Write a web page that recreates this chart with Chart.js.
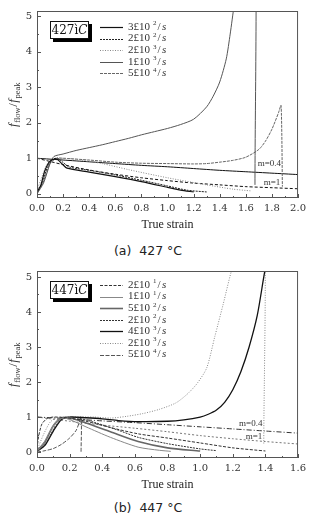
<!DOCTYPE html>
<html>
<head>
<meta charset="utf-8">
<script src="https://cdn.jsdelivr.net/npm/chart.js@4.4.1/dist/chart.umd.min.js"></script>
<style>
  html, body { margin: 0; padding: 0; background: #fff; }
  #wrap { position: relative; width: 310px; height: 513px; overflow: hidden; }
  .panel { position: absolute; left: 0; width: 310px; height: 232px; }
  .cap { position: absolute; left: 0; width: 296px; text-align: center;
         font: 12.5px "DejaVu Sans", sans-serif; color: #222; white-space: pre; }
</style>
</head>
<body>
<div id="wrap">
  <div class="panel" style="top:0"><canvas id="chartA" width="310" height="232"></canvas></div>
  <div class="cap" style="top:243px">(a)  427 °C</div>
  <div class="panel" style="top:260px"><canvas id="chartB" width="310" height="232"></canvas></div>
  <div class="cap" style="top:500px">(b)  447 °C</div>
</div>
<script>
// ---- (a) 427 C : strain / normalised flow stress ----
const aLabels = ['3£10-2/s', '2£10-2/s', '2£10-3/s', '1£10-3/s', '5£10-4/s'];

const aStrain1 = [0, 0.03, 0.06, 0.1, 0.15, 0.19, 0.23, 0.4, 0.6, 0.8, 1.0, 1.1, 1.2];
const aFlow1   = [0.05, 0.25, 0.65, 0.92, 0.98, 0.85, 0.72, 0.61, 0.48, 0.34, 0.18, 0.1, 0.05];

const aStrain2 = [0, 0.04, 0.08, 0.12, 0.16, 0.2, 0.25, 0.4, 0.6, 0.8, 1.0, 1.15, 1.3];
const aFlow2   = [0.02, 0.3, 0.75, 0.97, 1.0, 0.88, 0.75, 0.66, 0.53, 0.38, 0.22, 0.1, 0.05];

const aStrain3 = [0, 0.04, 0.08, 0.13, 0.2, 0.3, 0.5, 0.7, 1.0, 1.3, 1.5, 1.64];
const aFlow3   = [0.1, 0.5, 0.85, 0.98, 1.0, 0.97, 0.85, 0.68, 0.45, 0.25, 0.13, 0.08];

const aStrain4 = [0, 0.05, 0.1, 0.13, 0.2, 0.3, 0.4, 0.5, 0.6, 0.7, 0.8, 0.9, 1.0, 1.1, 1.2, 1.3, 1.35, 1.4, 1.45, 1.48, 1.51, 1.58, 1.67, 1.67];
const aFlow4   = [0, 0.3, 0.85, 1.05, 1.12, 1.22, 1.3, 1.38, 1.47, 1.56, 1.66, 1.75, 1.84, 1.95, 2.1, 2.45, 2.75, 3.15, 3.8, 4.5, 5.3, 7.0, 8.0, 0.25];

const aStrain5 = [0, 0.05, 0.1, 0.15, 0.2, 0.4, 0.6, 0.8, 1.0, 1.2, 1.3, 1.4, 1.5, 1.6, 1.7, 1.75, 1.8, 1.85, 1.87, 1.88];
const aFlow5   = [0, 0.35, 0.85, 1.0, 1.0, 0.95, 0.89, 0.86, 0.85, 0.84, 0.85, 0.89, 0.94, 1.03, 1.25, 1.48, 1.82, 2.28, 2.49, 0.2];

const aM04Strain = [0, 0.2, 0.4, 0.6, 0.8, 1.0, 1.2, 1.4, 1.6, 1.8, 2.0];
const aM04Flow   = [1.0, 0.95, 0.9, 0.85, 0.8, 0.76, 0.71, 0.66, 0.62, 0.58, 0.54];
const aM1Strain  = [0, 0.2, 0.4, 0.6, 0.8, 1.0, 1.2, 1.4, 1.6, 1.8, 2.0];
const aM1Flow    = [1.0, 0.82, 0.67, 0.55, 0.45, 0.37, 0.3, 0.25, 0.2, 0.17, 0.14];

const aNoteText = ['m=0.4', 'm=1'];
const aNoteX = [1.78, 1.8];
const aNoteY = [0.86, 0.31];

// ---- (b) 447 C ----
const bLabels = ['2£10-1/s', '1£10-1/s', '5£10-2/s', '2£10-2/s', '4£10-3/s', '2£10-3/s', '5£10-4/s'];

const bStrain1 = [0, 0.01, 0.03, 0.06, 0.1, 0.2, 0.3, 0.45, 0.62, 0.8, 1.0, 1.2, 1.4];
const bFlow1   = [0.1, 0.45, 0.8, 0.95, 1.0, 0.97, 0.88, 0.7, 0.52, 0.4, 0.26, 0.12, 0.03];

const bStrain2 = [0, 0.04, 0.08, 0.12, 0.16, 0.2, 0.3, 0.45, 0.62, 0.75, 0.82];
const bFlow2   = [0.02, 0.25, 0.6, 0.88, 0.97, 0.93, 0.72, 0.42, 0.14, 0.05, 0.02];

const bStrain3 = [0, 0.05, 0.1, 0.15, 0.2, 0.3, 0.45, 0.62, 0.8, 1.0];
const bFlow3   = [0.03, 0.3, 0.75, 0.97, 0.98, 0.83, 0.58, 0.3, 0.12, 0.03];

const bStrain4 = [0, 0.06, 0.12, 0.17, 0.25, 0.35, 0.5, 0.62, 0.8, 1.0, 1.1];
const bFlow4   = [0, 0.3, 0.8, 0.98, 0.97, 0.85, 0.62, 0.42, 0.24, 0.09, 0.04];

const bStrain5 = [0, 0.05, 0.1, 0.15, 0.2, 0.3, 0.4, 0.5, 0.62, 0.8, 0.9, 1.0, 1.05, 1.1, 1.15, 1.2, 1.25, 1.3, 1.35, 1.39, 1.42];
const bFlow5   = [0.02, 0.2, 0.6, 0.93, 1.0, 0.98, 0.95, 0.9, 0.87, 0.88, 0.92, 1.0, 1.08, 1.2, 1.42, 1.78, 2.3, 3.0, 3.9, 5.0, 5.8];

const bStrain6 = [0, 0.04, 0.08, 0.12, 0.2, 0.35, 0.45, 0.55, 0.65, 0.75, 0.85, 0.92, 0.98, 1.04, 1.09, 1.14, 1.2, 1.3, 1.39, 1.39];
const bFlow6   = [0.05, 0.5, 0.85, 0.98, 1.0, 1.0, 0.97, 1.02, 1.1, 1.22, 1.4, 1.65, 1.95, 2.4, 3.3, 4.2, 5.3, 6.5, 7.0, 0.23];

const bStrain7 = [0, 0.05, 0.1, 0.15, 0.2, 0.24, 0.27, 0.27];
const bFlow7   = [0, 0.04, 0.1, 0.22, 0.4, 0.62, 0.95, 0.0];

const bM04Strain = [0, 0.2, 0.4, 0.6, 0.8, 1.0, 1.2, 1.4, 1.6];
const bM04Flow   = [1.0, 0.95, 0.89, 0.84, 0.78, 0.72, 0.66, 0.6, 0.54];
const bM1Strain  = [0, 0.2, 0.4, 0.6, 0.8, 1.0, 1.2, 1.4, 1.6];
const bM1Flow    = [1.0, 0.88, 0.77, 0.68, 0.58, 0.47, 0.38, 0.3, 0.23];

const bNoteText = ['m=0.4', 'm=1'];
const bNoteX = [1.31, 1.33];
const bNoteY = [0.8, 0.45];

const SERIF = '"DejaVu Serif", serif';
const LSERIF = '"Liberation Serif", serif';

function pts(xs, ys) {
  return xs.map((x, i) => ({ x, y: ys[i] }));
}

function line(label, xs, ys, color, dash, width, inLegend = true) {
  return {
    label, data: pts(xs, ys), borderColor: color, borderDash: dash,
    borderWidth: width, pointRadius: 0, tension: 0.25, fill: false, inLegend,
  };
}

// frame, inward ticks, legend box, m= notes and the rotated y title
const paper = {
  id: 'paper',
  afterDatasetsDraw(chart, args, opts) {
    const { ctx, chartArea: ca } = chart;
    const xs = chart.scales.x, ys = chart.scales.y;
    ctx.save();

    ctx.strokeStyle = '#555';
    ctx.lineWidth = 1;
    ctx.strokeRect(ca.left + 0.5, ca.top + 0.5, ca.width - 1, ca.height - 1);

    const nx = Math.round((xs.max - 0) / 0.1);
    ctx.beginPath();
    for (let i = 0; i <= nx; i++) {
      const px = Math.round(xs.getPixelForValue(i * 0.1)) + 0.5;
      const len = i % 2 === 0 ? 4 : 2;
      ctx.moveTo(px, ca.bottom);
      ctx.lineTo(px, ca.bottom - len);
    }
    for (let i = 0; i <= 10; i++) {
      const py = Math.round(ys.getPixelForValue(i * 0.5)) + 0.5;
      const len = i % 2 === 0 ? 4 : 2;
      ctx.moveTo(ca.left, py);
      ctx.lineTo(ca.left + len, py);
    }
    ctx.stroke();

    // notes on the m lines
    ctx.fillStyle = '#333';
    ctx.font = '9px ' + LSERIF;
    ctx.textAlign = 'center';
    ctx.textBaseline = 'middle';
    opts.notes.text.forEach((t, i) => {
      ctx.fillText(t, xs.getPixelForValue(opts.notes.x[i]), ys.getPixelForValue(opts.notes.y[i]));
    });

    // temperature box with shadow
    const b = opts.box;
    ctx.fillStyle = '#000';
    ctx.fillRect(b.x + 3, b.y + 3, b.w, b.h);
    ctx.fillStyle = '#fff';
    ctx.fillRect(b.x, b.y, b.w, b.h);
    ctx.strokeStyle = '#111';
    ctx.strokeRect(b.x + 0.5, b.y + 0.5, b.w - 1, b.h - 1);
    ctx.fillStyle = '#111';
    ctx.textAlign = 'left';
    ctx.font = '12px ' + SERIF;
    const w1 = ctx.measureText(b.text).width;
    ctx.font = 'italic 12px ' + SERIF;
    const w2 = ctx.measureText('C').width;
    let tx = b.x + (b.w - w1 - w2) / 2;
    ctx.font = '12px ' + SERIF;
    ctx.fillText(b.text, tx, b.y + b.h / 2 + 1);
    ctx.font = 'italic 12px ' + SERIF;
    ctx.fillText('C', tx + w1, b.y + b.h / 2 + 1);

    // legend rows
    let row = 0;
    chart.data.datasets.forEach((ds) => {
      if (!ds.inLegend) return;
      const y = opts.legend.y + row * opts.legend.dy;
      row++;
      ctx.strokeStyle = ds.borderColor;
      ctx.lineWidth = ds.borderWidth;
      ctx.setLineDash(ds.borderDash || []);
      ctx.beginPath();
      ctx.moveTo(opts.legend.x, Math.round(y) + 0.5);
      ctx.lineTo(opts.legend.x + 23, Math.round(y) + 0.5);
      ctx.stroke();
      ctx.setLineDash([]);

      const m = ds.label.match(/^(.*10)(-?)(\d)(\/s)$/);
      let lx = opts.legend.x + 28;
      ctx.fillStyle = '#333';
      ctx.textBaseline = 'middle';
      ctx.font = '11px ' + LSERIF;
      ctx.fillText(m[1], lx, y);
      lx += ctx.measureText(m[1]).width + 3;   // minus sign prints as a gap
      ctx.font = '7px ' + LSERIF;
      ctx.fillText(m[3], lx, y - 3.5);
      lx += ctx.measureText(m[3]).width + 1;
      ctx.font = '11px ' + LSERIF;
      ctx.fillText('/', lx, y);
      lx += ctx.measureText('/').width + 1.5;
      ctx.font = 'italic 11px ' + LSERIF;
      ctx.fillText('s', lx, y);
    });

    // y title f_flow / f_peak
    const parts = [
      { t: 'f', f: 'italic 13px ' + LSERIF, dy: 0 },
      { t: 'flow', f: '8.5px ' + LSERIF, dy: 3 },
      { t: '/', f: '13px ' + LSERIF, dy: 0 },
      { t: 'f', f: 'italic 13px ' + LSERIF, dy: 0 },
      { t: 'peak', f: '8.5px ' + LSERIF, dy: 3 },
    ];
    let total = 0;
    parts.forEach(p => { ctx.font = p.f; p.w = ctx.measureText(p.t).width + 0.5; total += p.w; });
    ctx.translate(17, (ca.top + ca.bottom) / 2);
    ctx.rotate(-Math.PI / 2);
    ctx.fillStyle = '#333';
    ctx.textBaseline = 'alphabetic';
    let px = -total / 2;
    parts.forEach(p => { ctx.font = p.f; ctx.fillText(p.t, px, p.dy); px += p.w; });

    ctx.restore();
  },
};

function makeChart(id, datasets, xMax, yMin, yMax, notes, boxText) {
  return new Chart(document.getElementById(id), {
    type: 'line',
    data: { datasets },
    plugins: [paper],
    options: {
      responsive: false,
      animation: false,
      layout: { padding: { top: 11, right: 8, left: 0, bottom: 0 } },
      plugins: {
        legend: { display: false },
        tooltip: { enabled: false },
        paper: {
          notes,
          box: { x: 50, y: 21, w: 39, h: 18, text: boxText },
          legend: { x: 100, y: id === 'chartA' ? 27 : 25, dy: 11.6 },
        },
      },
      scales: {
        x: {
          type: 'linear', min: 0, max: xMax,
          grid: { display: false, drawTicks: false },
          border: { display: false },
          ticks: {
            stepSize: 0.2, includeBounds: false, padding: 4, color: '#333',
            font: { family: SERIF, size: 10 },
            callback: v => v.toFixed(1),
          },
          title: {
            display: true, text: 'True strain', color: '#222',
            font: { family: LSERIF, size: 12 }, padding: { top: 0, bottom: 0 },
          },
          afterFit(scale) { scale.height = 34; },
        },
        y: {
          min: yMin, max: yMax,
          grid: { display: false, drawTicks: false },
          border: { display: false },
          ticks: {
            stepSize: 1, includeBounds: false, padding: 5, color: '#333',
            font: { family: SERIF, size: 10 },
            callback: v => String(Math.round(v)),
          },
          afterFit(scale) { scale.width = 37; },
        },
      },
    },
  });
}

makeChart('chartA', [
  line(aLabels[0], aStrain1, aFlow1, '#111', [], 1.2),
  line(aLabels[1], aStrain2, aFlow2, '#222', [2, 1], 1),
  line(aLabels[2], aStrain3, aFlow3, '#888', [1, 1.5], 1),
  line(aLabels[3], aStrain4, aFlow4, '#555', [], 1),
  line(aLabels[4], aStrain5, aFlow5, '#666', [3, 1], 1),
  line('m=0.4', aM04Strain, aM04Flow, '#111', [], 1, false),
  line('m=1', aM1Strain, aM1Flow, '#111', [3, 2], 1, false),
], 2.0, -0.12, 5.15, { text: aNoteText, x: aNoteX, y: aNoteY }, '427ì');

makeChart('chartB', [
  line(bLabels[0], bStrain1, bFlow1, '#333', [3, 1.5], 1),
  line(bLabels[1], bStrain2, bFlow2, '#888', [], 1),
  line(bLabels[2], bStrain3, bFlow3, '#666', [], 1.6),
  line(bLabels[3], bStrain4, bFlow4, '#333', [2, 1], 1),
  line(bLabels[4], bStrain5, bFlow5, '#111', [], 1.3),
  line(bLabels[5], bStrain6, bFlow6, '#888', [1, 1.5], 1),
  line(bLabels[6], bStrain7, bFlow7, '#555', [4, 1.5], 1),
  line('m=0.4', bM04Strain, bM04Flow, '#333', [5, 2, 1, 2], 1, false),
  line('m=1', bM1Strain, bM1Flow, '#777', [2, 2], 1, false),
], 1.6, -0.17, 5.17, { text: bNoteText, x: bNoteX, y: bNoteY }, '447ì');
</script>
</body>
</html>
